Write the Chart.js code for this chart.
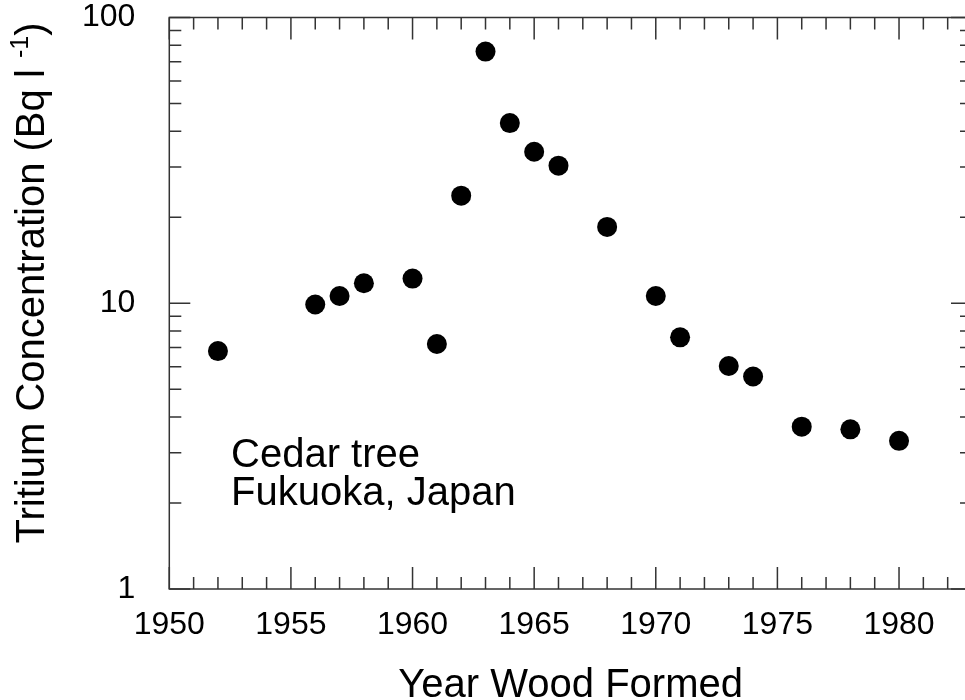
<!DOCTYPE html>
<html>
<head>
<meta charset="utf-8">
<script src="https://cdn.jsdelivr.net/npm/chart.js@4/dist/chart.umd.min.js"></script>
<style>
  html,body{margin:0;padding:0;background:#fff;overflow:hidden;}
  #wrap{width:990px;height:700px;}
</style>
</head>
<body>
<div id="wrap"><canvas id="chart" width="990" height="700"></canvas></div>
<script>
// Data
const years=[1952,1956,1957,1958,1960,1961,1962,1963,1964,1965,1966,1968,1970,1971,1973,1974,1976,1978,1980];
const tritium=[6.8,9.9,10.6,11.75,12.2,7.2,23.8,76,42.7,33.9,30.3,18.5,10.6,7.6,6.03,5.54,3.70,3.62,3.30];
const xTickLabels=[1950,1955,1960,1965,1970,1975,1980];
const yTickLabels=[1,10,100];

const FONT='"Liberation Sans", Arial, sans-serif';

const frame={
  id:'frame',
  beforeDatasetsDraw(chart){
    const {ctx,chartArea:a,scales:{x,y}}=chart;
    ctx.save();
    ctx.strokeStyle='#333';
    ctx.lineWidth=1.5;
    ctx.strokeRect(a.left,a.top,a.right-a.left,a.bottom-a.top);
    ctx.beginPath();
    for(let yr=x.min;yr<=x.max;yr++){
      const px=x.getPixelForValue(yr);
      const len=yr%5===0?22:12;
      ctx.moveTo(px,a.bottom);ctx.lineTo(px,a.bottom-len);
      ctx.moveTo(px,a.top);ctx.lineTo(px,a.top+len);
    }
    for(let d=1;d<100;d*=10){
      for(let m=1;m<=10;m++){
        const v=d*m;
        const py=y.getPixelForValue(v);
        const len=(m===1||m===10)?21:12;
        ctx.moveTo(a.left,py);ctx.lineTo(a.left+len,py);
        ctx.moveTo(a.right,py);ctx.lineTo(a.right-len,py);
      }
    }
    ctx.stroke();
    ctx.restore();
  },
  afterDraw(chart){
    const {ctx,chartArea:a}=chart;
    ctx.save();
    ctx.fillStyle='#000';
    ctx.textBaseline='alphabetic';
    // annotation
    ctx.font='40px '+FONT;
    ctx.textAlign='left';
    ctx.fillText('Cedar tree',231,467);
    ctx.fillText('Fukuoka, Japan',231,505);
    // x title
    ctx.textAlign='center';
    ctx.font='40px '+FONT;
    ctx.fillText('Year Wood Formed',(a.left+a.right)/2,697);
    // y title with superscript
    const main='Tritium Concentration (Bq l ';
    const sup='-1';
    const end=')';
    ctx.font='40px '+FONT;
    const w1=ctx.measureText(main).width;
    const w3=ctx.measureText(end).width;
    ctx.font='25px '+FONT;
    const w2=ctx.measureText(sup).width;
    const total=w1+w2+w3;
    ctx.translate(44,283);
    ctx.rotate(-Math.PI/2);
    ctx.textAlign='left';
    let sx=-total/2;
    ctx.font='40px '+FONT;
    ctx.fillText(main,sx,0);
    sx+=w1;
    ctx.font='25px '+FONT;
    ctx.fillText(sup,sx,-16);
    sx+=w2;
    ctx.font='40px '+FONT;
    ctx.fillText(end,sx,0);
    ctx.restore();
  }
};

new Chart(document.getElementById('chart'),{
  type:'scatter',
  data:{
    datasets:[{
      data:years.map((yr,i)=>({x:yr,y:tritium[i]})),
      backgroundColor:'#000',
      borderWidth:0,
      pointRadius:10,
      pointHoverRadius:10
    }]
  },
  options:{
    responsive:false,
    animation:false,
    layout:{padding:{left:0,right:18,top:17.5,bottom:0}},
    plugins:{legend:{display:false},tooltip:{enabled:false}},
    scales:{
      x:{
        type:'linear',
        min:1950,max:1983,
        grid:{display:false,drawTicks:false},
        border:{display:false},
        afterBuildTicks:s=>{s.ticks=xTickLabels.map(v=>({value:v}));},
        afterFit:s=>{s.height=111;s.paddingLeft=0;s.paddingRight=0;},
        ticks:{color:'#000',padding:20,maxRotation:0,autoSkip:false,
          callback:v=>String(v),
          font:{family:FONT,size:32,lineHeight:1}}
      },
      y:{
        type:'logarithmic',
        min:1,max:100,
        grid:{display:false,drawTicks:false},
        border:{display:false},
        afterBuildTicks:s=>{s.ticks=yTickLabels.map(v=>({value:v}));},
        afterFit:s=>{s.width=169.3;s.paddingTop=0;s.paddingBottom=0;},
        ticks:{color:'#000',padding:34,autoSkip:false,
          callback:v=>String(v),
          font:{family:FONT,size:32,lineHeight:1}}
      }
    }
  },
  plugins:[frame]
});
</script>
</body>
</html>
